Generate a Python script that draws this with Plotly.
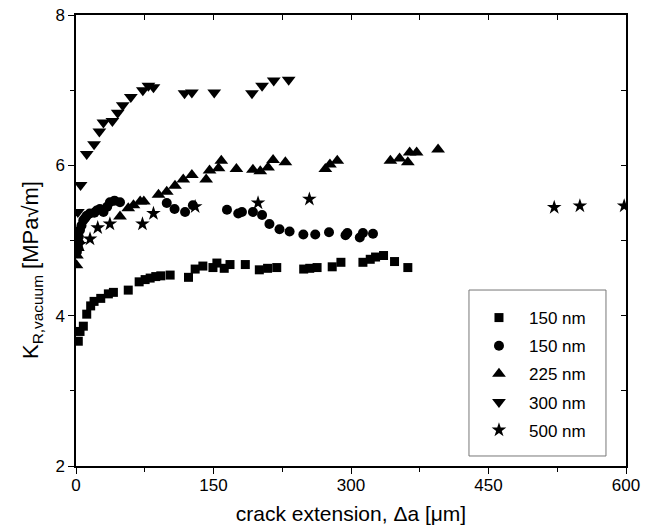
import plotly.graph_objects as go

# 150 nm (squares)
sq_x = [2.5, 4.4, 8.0, 11.7, 16, 19.7, 27, 35.3, 40.8, 57, 68.9, 75.4, 80.9, 87, 92.5, 102.7,
        122.7, 130, 138.4, 149.4, 153.7, 161.7, 168, 184.7, 200, 209, 219, 248.4, 255, 263,
        279.5, 289, 313, 321, 326.8, 335.5, 347.5, 362]
sq_y = [3.66, 3.79, 3.86, 4.02, 4.13, 4.19, 4.23, 4.29, 4.31, 4.34, 4.45, 4.48, 4.50, 4.52, 4.53, 4.54,
        4.51, 4.62, 4.66, 4.64, 4.70, 4.63, 4.68, 4.68, 4.61, 4.63, 4.64, 4.62, 4.63, 4.64,
        4.65, 4.71, 4.71, 4.75, 4.78, 4.80, 4.72, 4.64]

# 150 nm (circles)
ci_x = [1, 2, 3, 4.4, 6, 8, 10, 11.7, 15, 20, 22.6, 26, 30, 34, 37, 42, 48,
        99, 107.5, 119, 127.5, 164.7, 177, 181, 193, 203, 211, 222, 233, 248, 261, 276,
        294, 296, 309.6, 313, 324]
ci_y = [4.85, 4.95, 5.05, 5.14, 5.20, 5.27, 5.30, 5.33, 5.36, 5.37, 5.40, 5.42, 5.38, 5.45, 5.51, 5.53, 5.51,
        5.50, 5.42, 5.38, 5.47, 5.41, 5.36, 5.38, 5.38, 5.34, 5.22, 5.15, 5.12, 5.08, 5.08, 5.11,
        5.07, 5.10, 5.04, 5.10, 5.09]

# 225 nm (triangles up)
tu_x = [0.5, 1, 2, 3, 48, 57, 62.7, 70, 74, 90, 99, 108, 117, 126.4, 142, 145.7, 155.5, 158.5,
        175, 193, 201, 209.5, 215, 228.4, 272, 277, 285, 343, 353, 362, 364, 371.6, 395]
tu_y = [4.67, 4.80, 4.90, 5.00, 5.32, 5.43, 5.47, 5.52, 5.52, 5.61, 5.65, 5.73, 5.81, 5.87, 5.81, 5.93, 5.96, 6.06,
        5.95, 5.94, 5.92, 5.97, 6.07, 6.04, 5.95, 6.01, 6.06, 6.06, 6.09, 6.04, 6.17, 6.17, 6.21]

# 300 nm (triangles down)
td_x = [2, 5, 11.7, 19.7, 25.5, 29.9, 39.7, 45.5, 51, 59.8, 72.9, 79, 84.5,
        118.4, 126.4, 150.8, 192, 203, 215.7, 232]
td_y = [5.38, 5.74, 6.15, 6.28, 6.45, 6.57, 6.59, 6.70, 6.80, 6.91, 7.00, 7.06, 7.04,
        6.96, 6.97, 6.97, 6.96, 7.06, 7.13, 7.14]

# 500 nm (stars)
st_x = [4, 15.3, 23.7, 37, 72.5, 84.5, 130, 198.6, 254.6, 521.7, 549.7, 598]
st_y = [4.95, 5.02, 5.17, 5.22, 5.22, 5.36, 5.45, 5.50, 5.55, 5.44, 5.46, 5.46]

series = [
    ("150 nm", sq_x, sq_y, "square", 9),
    ("150 nm", ci_x, ci_y, "circle", 10),
    ("225 nm", tu_x, tu_y, "triangle-up", 12),
    ("300 nm", td_x, td_y, "triangle-down", 12),
    ("500 nm", st_x, st_y, "star", 11),
]

fig = go.Figure()
for i, (name, xs, ys, sym, sz) in enumerate(series):
    fig.add_trace(go.Scatter(
        x=xs, y=ys, mode="markers", name=name, legendgroup=f"g{i}",
        marker=dict(symbol=sym, size=sz, color="black", line=dict(width=0)),
    ))

font = "Liberation Sans, Arial, Helvetica, sans-serif"
axis_common = dict(showgrid=False, zeroline=False, showline=True, linecolor="black",
                   linewidth=1.5, tickcolor="black", tickwidth=1.2)

fig.update_layout(
    width=660, height=532,
    margin=dict(l=76, r=34, t=15, b=66, autoexpand=False),
    plot_bgcolor="white", paper_bgcolor="white",
    font=dict(family=font, color="black", size=17),
    showlegend=True,
    legend=dict(x=0.7145, y=0.368, xanchor="left", yanchor="top",
                borderwidth=0, bgcolor="rgba(0,0,0,0)",
                font=dict(size=17, family=font), tracegroupgap=3,
                itemwidth=50),
    xaxis=dict(range=[0, 600], tickvals=[0, 150, 300, 450, 600], ticks="outside", ticklen=6,
               minor=dict(dtick=75, tick0=0, ticks="outside", ticklen=4, tickcolor="black"),
               title=dict(text="crack extension, Δa [μm]", font=dict(size=21), standoff=12),
               tickfont=dict(size=17), ticklabelstandoff=-3, ticklabeloverflow="allow",
               **axis_common),
    yaxis=dict(range=[2, 8], tickvals=[2, 4, 6, 8], ticks="outside", ticklen=6,
               minor=dict(dtick=1, tick0=0, ticks="outside", ticklen=4, tickcolor="black"),
               tickfont=dict(size=17), ticklabeloverflow="allow", **axis_common),
    xaxis2=dict(range=[0, 600], overlaying="x", side="top", tickvals=[75, 150, 225, 300, 375, 450, 525],
                ticks="inside", ticklen=5, showticklabels=False, **axis_common),
    yaxis2=dict(range=[2, 8], overlaying="y", side="right", tickvals=[3, 4, 5, 6, 7],
                ticks="inside", ticklen=5, showticklabels=False, **axis_common),
    shapes=[dict(type="rect", xref="paper", yref="paper", x0=0.7145, x1=0.9636, y0=0.0222, y1=0.3902,
                 line=dict(color="#777777", width=1), fillcolor="rgba(0,0,0,0)", layer="below")],
    annotations=[dict(text="K<sub>R,vacuum</sub> [MPa√m]", xref="paper", yref="paper",
                      x=-0.08, y=0.4346, xanchor="center", yanchor="middle", textangle=-90,
                      showarrow=False, font=dict(size=22, family=font))],
)
# invisible helper trace so the mirrored axes are drawn
fig.add_trace(go.Scatter(x=[None], y=[None], xaxis="x2", yaxis="y2", showlegend=False,
                         hoverinfo="skip"))

fig.write_html("out.html", config={"displayModeBar": False},
               post_script="document.body.style.margin='0';document.body.style.overflow='hidden';")
